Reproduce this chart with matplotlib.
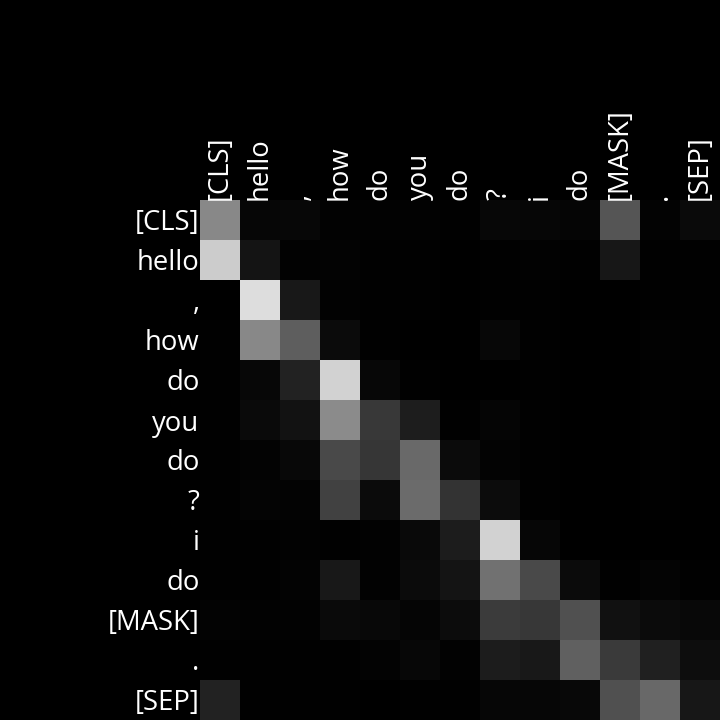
import matplotlib
matplotlib.use("Agg")
import matplotlib.pyplot as plt
import numpy as np

tokens = ["[CLS]", "hello", ",", "how", "do", "you", "do", "?", "i", "do", "[MASK]", ".", "[SEP]"]

# attention weights (grey level / 255), rows = query tokens, cols = key tokens
row_cls   = [136, 6, 7, 2, 2, 2, 1, 7, 6, 5, 85, 3, 10]
row_hello = [204, 20, 2, 3, 1, 1, 0, 1, 2, 1, 23, 1, 1]
row_comma = [0, 221, 24, 2, 1, 1, 0, 1, 1, 0, 0, 1, 1]
row_how   = [1, 136, 94, 11, 1, 0, 0, 7, 1, 0, 0, 2, 1]
row_do1   = [1, 7, 34, 210, 7, 1, 0, 0, 1, 0, 0, 1, 1]
row_you   = [1, 10, 18, 139, 56, 29, 1, 5, 1, 0, 0, 1, 0]
row_do2   = [1, 3, 8, 74, 54, 106, 11, 3, 1, 0, 0, 1, 0]
row_q     = [1, 4, 3, 66, 11, 107, 51, 12, 1, 0, 0, 1, 0]
row_i     = [1, 1, 2, 1, 2, 9, 28, 210, 6, 0, 0, 0, 0]
row_do3   = [1, 1, 3, 24, 2, 11, 20, 114, 74, 11, 1, 4, 1]
row_mask  = [3, 2, 2, 10, 8, 5, 12, 59, 55, 80, 17, 11, 8]
row_dot   = [1, 1, 1, 1, 3, 7, 2, 28, 24, 96, 58, 32, 13]
row_sep   = [34, 1, 1, 1, 0, 1, 1, 6, 6, 8, 80, 104, 23]

attn = np.array([row_cls, row_hello, row_comma, row_how, row_do1, row_you, row_do2,
                 row_q, row_i, row_do3, row_mask, row_dot, row_sep]) / 255.0

fig = plt.figure(figsize=(7.2, 7.2), dpi=100, facecolor="black")
ax = fig.add_axes([200 / 720, 0, 520 / 720, 520 / 720])
ax.imshow(attn, cmap="gray", vmin=0, vmax=1, aspect="auto", interpolation="nearest")
ax.set_facecolor("black")

ax.set_xticks(range(len(tokens)))
ax.set_yticks(range(len(tokens)))
ax.set_xticklabels(tokens, rotation=90, fontsize=19.8, color="white", family=["Open Sans", "DejaVu Sans"])
ax.set_yticklabels(tokens, fontsize=19.8, color="white", family=["Open Sans", "DejaVu Sans"])
ax.xaxis.tick_top()
ax.tick_params(axis="both", length=0, pad=0.3)
for s in ax.spines.values():
    s.set_visible(False)

fig.savefig("out.png", dpi=100, facecolor="black")
